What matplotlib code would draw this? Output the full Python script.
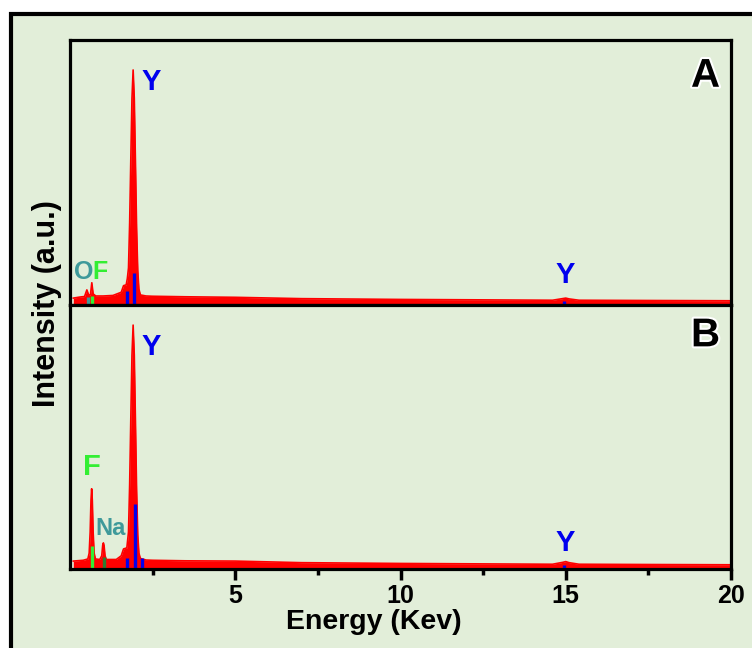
"""
EDS spectra of the two samples (A / B), stacked panels sharing the energy axis.
"""

import matplotlib
matplotlib.use("Agg")   # headless-safe backend
import matplotlib.pyplot as plt
import matplotlib.patheffects as pe
from matplotlib.patches import Rectangle
from matplotlib.ticker import FixedLocator

plt.rcParams["font.family"] = ["Liberation Sans", "DejaVu Sans"]
plt.rcParams["font.weight"] = "bold"

BG = "#e2eed9"
RED = "#ff0000"
BLUE = "#0000ee"
GREEN = "#33ee33"
DKGREEN = "#2e7d32"
TEAL = "#3f9a9a"

# ---- spectrum A (energy keV, intensity a.u.) ----
energy_a = [0.10, 0.30, 0.44, 0.51, 0.57, 0.62, 0.66, 0.70, 0.78, 1.00, 1.30, 1.55,
            1.62, 1.70, 1.735, 1.77, 1.805, 1.84, 1.875, 1.91, 1.945, 1.98, 2.015,
            2.05, 2.085, 2.13, 2.30, 2.50, 3.5, 5.0, 7.0, 10.0, 14.6, 14.9, 15.0,
            15.1, 15.4, 17.5, 20.0]
counts_a = [2.6, 3.0, 3.2, 5.7, 3.6, 4.0, 8.4, 4.2, 3.4, 3.4, 3.6, 4.8,
            7.3, 7.6, 10.0, 14.0, 31.0, 55.0, 78.0, 88.7, 78.0, 54.0, 29.0,
            13.0, 6.0, 3.8, 3.4, 3.3, 3.1, 2.9, 2.4, 2.1, 1.8, 2.4, 2.6,
            2.3, 1.8, 1.7, 1.6]

# ---- spectrum B ----
energy_b = [0.10, 0.40, 0.54, 0.58, 0.61, 0.635, 0.655, 0.675, 0.70, 0.73, 0.77,
            0.90, 0.96, 0.99, 1.01, 1.03, 1.06, 1.10, 1.40, 1.55, 1.62, 1.72,
            1.77, 1.805, 1.84, 1.875, 1.91, 1.945, 1.98, 2.015, 2.05, 2.085,
            2.13, 2.30, 2.50, 3.5, 5.0, 7.0, 10.0, 14.6, 14.9, 15.0, 15.1, 15.4,
            17.5, 20.0]
counts_b = [3.0, 3.3, 3.8, 6.0, 14.0, 26.0, 30.4, 26.0, 14.0, 6.0, 3.8,
            3.6, 5.0, 9.0, 9.9, 9.0, 5.0, 3.6, 3.6, 5.0, 7.6, 8.0,
            14.0, 32.0, 57.0, 81.0, 92.4, 81.0, 56.0, 30.0, 13.0, 6.0,
            4.0, 3.4, 3.3, 3.1, 3.0, 2.4, 2.1, 1.8, 2.5, 2.8, 2.4, 1.8,
            1.7, 1.6]

# ---- element marker lines ----
lines_a_energy = [0.535, 0.656, 1.73, 1.935, 14.96]
lines_a_height = [3.2, 3.4, 5.3, 12.0, 1.5]
lines_a_color = [TEAL, GREEN, BLUE, BLUE, BLUE]

lines_b_energy = [0.656, 1.04, 1.71, 1.955, 2.17, 14.96]
lines_b_height = [8.6, 4.6, 4.2, 24.7, 4.2, 1.5]
lines_b_color = [GREEN, DKGREEN, BLUE, BLUE, BLUE, BLUE]

# ---- element labels: (text, energy, height, colour, size, align) ----
labels_a = [("Y", 2.15, 84.0, BLUE, 21, "left"),
            ("Y", 14.97, 11.3, BLUE, 21, "center"),
            ("O", 0.40, 12.5, TEAL, 18, "center"),
            ("F", 0.91, 12.5, GREEN, 18, "center")]
labels_b = [("Y", 2.15, 84.0, BLUE, 21, "left"),
            ("Y", 14.97, 9.8, BLUE, 21, "center"),
            ("F", 0.67, 38.6, GREEN, 21, "center"),
            ("Na", 1.22, 15.2, TEAL, 17, "center")]

minor_ticks = [2.5, 7.5, 12.5, 17.5]
major_ticks = [5, 10, 15, 20]


def draw_panel(ax, energy, counts, l_en, l_h, l_c, labels, tag, tag_y):
    ax.set_facecolor(BG)
    ax.fill_between(energy, 0, counts, color=RED, lw=0, zorder=2)
    ax.plot(energy, counts, color=RED, lw=1.2, zorder=2)
    ax.vlines(l_en, 0, l_h, colors=l_c, lw=2.4, zorder=3)
    for txt, x, y, c, fs, ha in labels:
        ax.text(x, y, txt, color=c, fontsize=fs, fontweight="bold",
                ha=ha, va="center", zorder=4)
    ax.text(19.23, tag_y, tag, fontsize=29, fontweight="bold", color="black",
            ha="center", va="center", zorder=4,
            path_effects=[pe.withStroke(linewidth=3, foreground="white")])
    ax.set_xlim(0, 20)
    ax.set_ylim(0, 100)
    ax.set_yticks([])
    for s in ax.spines.values():
        s.set_linewidth(2.3)
        s.set_zorder(5)


fig = plt.figure(figsize=(7.52, 6.48), dpi=100, facecolor="white")

# framed light-green background running off the right and bottom edges
frame = Rectangle((11 / 752, -0.1), 1.2, 0.1 + 1 - 14 / 648,
                  transform=fig.transFigure, facecolor=BG,
                  edgecolor="black", lw=3, zorder=-10)
fig.patches.append(frame)

left, width = 70 / 752, 661 / 752
ax_a = fig.add_axes([left, 1 - 305 / 648, width, 265 / 648])
ax_b = fig.add_axes([left, 1 - 569 / 648, width, 264 / 648])

draw_panel(ax_a, energy_a, counts_a, lines_a_energy, lines_a_height,
           lines_a_color, labels_a, "A", 86.5)
draw_panel(ax_b, energy_b, counts_b, lines_b_energy, lines_b_height,
           lines_b_color, labels_b, "B", 88.5)

ax_a.set_xticks([])
ax_b.set_xticks(major_ticks)
ax_b.xaxis.set_minor_locator(FixedLocator(minor_ticks))
ax_b.tick_params(axis="x", which="major", direction="out", length=8, width=2.5,
                 labelsize=18, pad=3)
ax_b.tick_params(axis="x", which="minor", direction="out", length=4.5, width=2.5)
for lbl in ax_b.get_xticklabels():
    lbl.set_fontweight("bold")

fig.text(374 / 752, 1 - 622 / 648, "Energy (Kev)", fontsize=20.5,
         fontweight="bold", ha="center", va="center")
fig.text(47 / 752, 1 - 304 / 648, "Intensity (a.u.)", rotation=90,
         fontsize=22, fontweight="bold", ha="center", va="center")

plt.savefig("out.png", dpi=100, facecolor="white")
plt.close()
